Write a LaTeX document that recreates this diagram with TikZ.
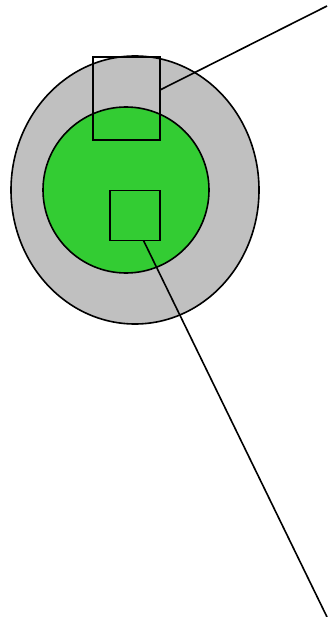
\documentclass[tikz,border=0pt]{standalone}
\usetikzlibrary{shapes.geometric}
\definecolor{ringgray}{RGB}{192,192,192}
\definecolor{coregreen}{RGB}{51,204,51}
\begin{document}
\begin{tikzpicture}[x=1pt,y=-1pt,line width=1.6pt,
  outlined/.style={draw=black,inner sep=0pt,outer sep=0pt},
  frame/.style={outlined,rectangle}]
\useasboundingbox (0,0) rectangle (327,617);
\node[outlined,ellipse,fill=ringgray,minimum width=248pt,minimum height=268pt] (outer) at (135,190) {};
\node[outlined,ellipse,fill=coregreen,minimum width=166pt,minimum height=166pt] (inner) at (126,190) {};
\node[frame,minimum width=67pt,minimum height=83pt] (top) at (126.5,98.5) {};
\node[frame,minimum width=50pt,minimum height=50pt] (mid) at (135,215.5) {};
\coordinate (tr) at (327,6);
\coordinate (br) at (327,617);
\draw (top.east |- 0,90) -- (tr);
\draw (mid.south -| 143.5,0) -- (br);
\end{tikzpicture}
\end{document}
